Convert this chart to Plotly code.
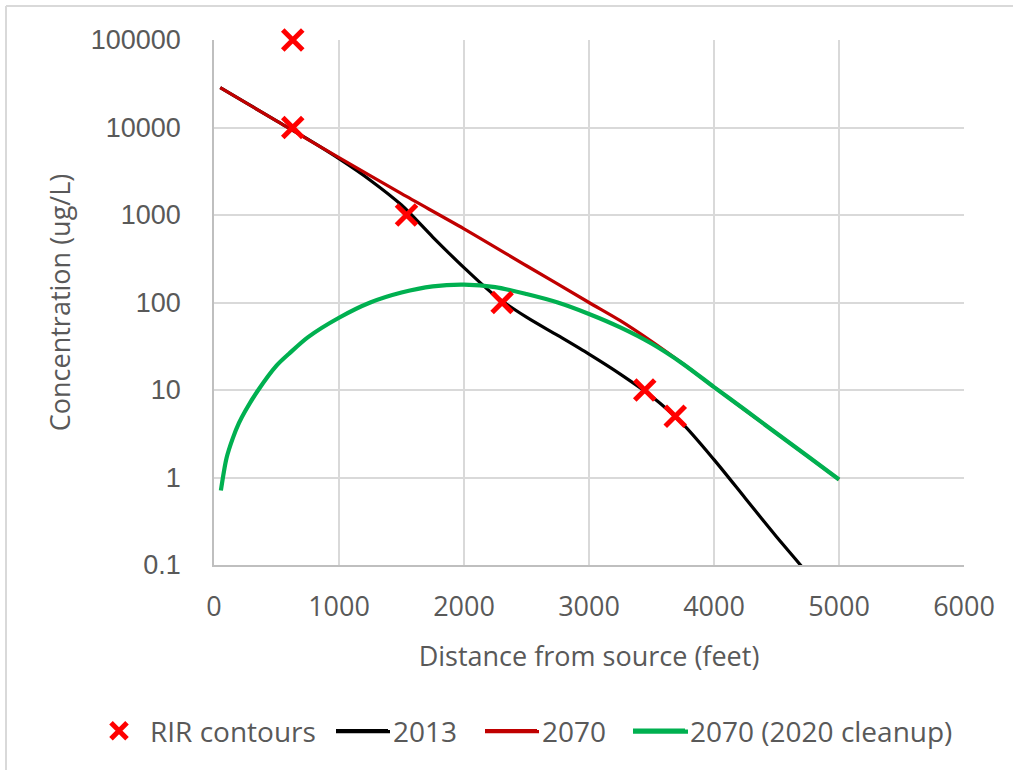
import plotly.graph_objects as go

# RIR contour points
rir_x = [630, 630, 1540, 2305, 3446, 3690]
rir_y = [100000, 10000, 1000, 100, 10, 5]

# 2013 curve
y2013_x = [50, 250, 500, 750, 1000, 1250, 1500, 1750, 2000, 2250, 2500, 2750,
           3000, 3250, 3500, 3750, 4000, 4250, 4500, 4750, 5000]
y2013_y = [28600, 19400, 11900, 7350, 4400, 2500, 1300, 560, 250, 119, 68, 42,
           25.7, 15.2, 8.5, 4.1, 1.6, 0.58, 0.21, 0.079, 0.025]

# 2070 curve
y2070_x = [50, 500, 1000, 1500, 2000, 2500, 3000, 3250, 3500, 3750, 4000, 4500, 5000]
y2070_y = [28600, 11900, 4520, 1750, 695, 263, 100, 62, 36, 20, 10.8, 3.2, 0.95]

# 2070 (2020 cleanup) curve
clean_x = [55, 100, 150, 200, 250, 350, 500, 600, 750, 1000, 1250, 1500, 1750, 2000,
           2250, 2500, 2750, 3000, 3250, 3500, 3750, 4000, 4250, 4500, 4750, 5000]
clean_y = [0.71, 1.66, 2.8, 4.2, 5.75, 9.8, 19.0, 26, 40, 67, 100, 130, 153, 160,
           150, 125, 100, 74, 52, 34, 20, 10.8, 5.9, 3.2, 1.75, 0.95]

x_ticks = [0, 1000, 2000, 3000, 4000, 5000, 6000]
y_ticks = [0.1, 1, 10, 100, 1000, 10000, 100000]
y_tick_text = ["0.1", "1", "10", "100", "1000", "10000", "100000"]

fig = go.Figure()
fig.add_trace(go.Scatter(
    x=y2013_x, y=y2013_y, mode="lines", name="2013", legend="legend2",
    line=dict(color="#000000", width=3.2, shape="spline", smoothing=0.8)))
fig.add_trace(go.Scatter(
    x=y2070_x, y=y2070_y, mode="lines", name="2070", legend="legend3",
    line=dict(color="#c00000", width=3.2, shape="spline", smoothing=0.8)))
fig.add_trace(go.Scatter(
    x=clean_x, y=clean_y, mode="lines", name="2070 (2020 cleanup)", legend="legend4",
    line=dict(color="#00b050", width=4.2, shape="spline", smoothing=0.8)))
fig.add_trace(go.Scatter(
    x=rir_x, y=rir_y, mode="markers", name="RIR contours", legend="legend",
    marker=dict(symbol="x-thin", size=20, color="#ff0000",
                line=dict(color="#ff0000", width=5)),
    cliponaxis=False))

tick_color = "#595959"
LEG_Y = 731


def leg(xpx):
    return dict(orientation="h", xref="container", yref="container",
                x=xpx / 1013, xanchor="left", y=1 - LEG_Y / 770, yanchor="middle",
                font=dict(size=28, color=tick_color, family="Open Sans"),
                itemwidth=52, itemsizing="trace", bgcolor="rgba(0,0,0,0)")


fig.update_layout(
    width=1013, height=770,
    margin=dict(l=214, r=49, t=40, b=205),
    paper_bgcolor="white", plot_bgcolor="white",
    font=dict(family="Open Sans, Lato, sans-serif", color=tick_color),
    showlegend=True,
    legend=leg(88), legend2=leg(331), legend3=leg(480), legend4=leg(628),
    xaxis=dict(range=[0, 6000], tickvals=x_ticks, showgrid=True,
               gridcolor="#d9d9d9", gridwidth=1.5, zeroline=False,
               showline=True, linecolor="#bfbfbf", linewidth=1.5,
               ticks="", ticklabelstandoff=17,
               tickfont=dict(size=27, family="Open Sans", color=tick_color),
               title=dict(text="Distance from source (feet)", standoff=24,
                          font=dict(size=27, family="Open Sans", color=tick_color))),
    yaxis=dict(type="log", range=[-1, 5], tickvals=y_ticks, ticktext=y_tick_text,
               showgrid=True, gridcolor="#d9d9d9", gridwidth=1.5, zeroline=False,
               showline=True, linecolor="#bfbfbf", linewidth=1.5,
               ticks="", ticklabelstandoff=26,
               tickfont=dict(size=27, family="Liberation Sans, Arial", color=tick_color),
               title=dict(text="Concentration (ug/L)", standoff=12,
                          font=dict(size=27, family="Open Sans", color=tick_color))),
)


def px_x(p):
    return (p - 214) / 750


def px_y(p):
    return (564.5 - p) / 524.5


# Longer legend line samples (decoration extending the legend symbols)
for x0, x1, col, w in [(336, 390, "#000000", 3.2), (485, 539, "#c00000", 3.2),
                       (633, 688, "#00b050", 4.2)]:
    fig.add_shape(type="line", xref="paper", yref="paper",
                  x0=px_x(x0), x1=px_x(x1), y0=px_y(LEG_Y), y1=px_y(LEG_Y),
                  line=dict(color=col, width=w))

# Outer chart-area border (left and top edges visible)
fig.add_shape(type="line", xref="paper", yref="paper",
              x0=px_x(6), x1=1.1, y0=px_y(6), y1=px_y(6),
              line=dict(color="#d9d9d9", width=2))
fig.add_shape(type="line", xref="paper", yref="paper",
              x0=px_x(6), x1=px_x(6), y0=px_y(6), y1=-0.5,
              line=dict(color="#d9d9d9", width=2))

fig.write_html("out.html")
